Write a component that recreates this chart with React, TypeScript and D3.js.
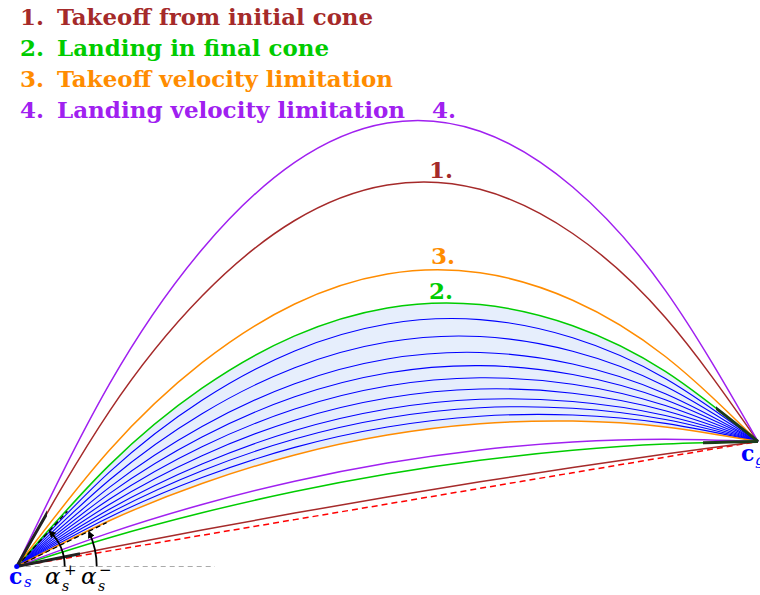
import React from "react";
import * as d3 from "d3";

// fraction of the horizontal distance from c_s to c_g
const tSteps = [0, 0.125, 0.25, 0.375, 0.5, 0.625, 0.75, 0.875, 1];

// altitude above c_s (px-like units) read at each step
const purpleUp = [0, 182.3, 317.0, 404.1, 443.5, 435.3, 379.5, 276.1, 125];
const brownUp = [0, 155.2, 270.5, 346.0, 381.5, 377.2, 333.0, 249.0, 125];
const orangeUp = [0, 116.2, 203.8, 262.5, 292.5, 293.7, 266.3, 210.0, 125];
const greenUp = [0, 101.4, 178.3, 230.6, 258.5, 261.9, 240.8, 195.1, 125];
const blueSeries = [
  [0, 94.4, 166.3, 215.6, 242.5, 246.9, 228.8, 188.1, 125],
  [0, 86.5, 152.8, 198.8, 224.5, 230.0, 215.3, 180.3, 125],
  [0, 79.1, 140.0, 182.8, 207.5, 214.0, 202.5, 172.8, 125],
  [0, 72.9, 129.5, 169.7, 193.5, 200.9, 192.0, 166.7, 125],
  [0, 67.3, 119.8, 157.5, 180.5, 188.7, 182.3, 161.0, 125],
  [0, 62.0, 110.8, 146.3, 168.5, 177.5, 173.3, 155.8, 125],
  [0, 57.2, 102.5, 136.0, 157.5, 167.2, 165.0, 151.0, 125],
  [0, 53.2, 95.75, 127.5, 148.5, 158.7, 158.3, 147.0, 125],
  [0, 49.3, 89.0, 119.1, 139.5, 150.3, 151.5, 143.1, 125],
];
const orangeLow = [0, 45.8, 83.0, 111.6, 131.5, 142.8, 145.5, 139.6, 125];
const purpleLow = [0, 33.6, 62.0, 85.3, 103.5, 116.6, 124.5, 127.3, 125];
const greenLow = [0, 28.8, 53.75, 75.0, 92.5, 106.2, 116.25, 122.5, 125];
const brownLow = [0, 18.7, 36.5, 53.4, 69.5, 84.7, 99.0, 112.4, 125];
const straightLine = [0, 15.625, 31.25, 46.875, 62.5, 78.125, 93.75, 109.375, 125];

const legendItems = [
  { num: "1.", text: "Takeoff from initial cone", color: "#A52A2A" },
  { num: "2.", text: "Landing in final cone", color: "#00CC00" },
  { num: "3.", text: "Takeoff velocity limitation", color: "#FF8C00" },
  { num: "4.", text: "Landing velocity limitation", color: "#A020F0" },
];

const COL = {
  brown: "#A52A2A",
  green: "#00CC00",
  orange: "#FF8C00",
  purple: "#A020F0",
  blue: "#0000FF",
  red: "#FF0000",
  fill: "#E6EEFC",
};

const SERIF = "'DejaVu Serif', 'Liberation Serif', serif";

export default function App() {
  const W = 760;
  const H = 595;
  const x = d3.scaleLinear().domain([0, 1]).range([16.7, 758]);
  const y = d3.scaleLinear().domain([0, 446]).range([566.5, 120.5]);

  const line = (vals: number[]) =>
    d3
      .line<number>()
      .x((_, i) => x(tSteps[i]))
      .y((d) => y(d))
      .curve(d3.curveNatural)(vals) || "";

  const area =
    d3
      .area<number>()
      .x((_, i) => x(tSteps[i]))
      .y0((_, i) => y(orangeLow[i]))
      .y1((_, i) => y(greenUp[i]))
      .curve(d3.curveNatural)(tSteps) || "";

  const legendY = [25, 56, 87, 118];
  const legendEnd = [373, 329, 393, 405];

  const cs = { x: x(0), y: y(0) };
  const arc = (r: number, a0: number, a1: number) => {
    const p = d3.path();
    p.arc(cs.x, cs.y, r, -a0, -a1, true);
    return p.toString();
  };
  const deg = Math.PI / 180;
  const ray = (ang: number, len: number) => ({
    x2: cs.x + len * Math.cos(ang * deg),
    y2: cs.y - len * Math.sin(ang * deg),
  });
  const rPlus = ray(47.5, 75);
  const rMinus = ray(26, 100);

  const ital = { fontFamily: SERIF, fontStyle: "italic" };

  return (
    <svg
      width={W}
      height={H}
      style={{ position: "absolute", left: 0, top: 0 }}
      xmlns="http://www.w3.org/2000/svg"
    >
      <defs>
        <clipPath id="clipCs1">
          <rect x={0} y={0} width={47} height={H} />
        </clipPath>
        <clipPath id="clipCs2">
          <rect x={0} y={0} width={80} height={H} />
        </clipPath>
        <clipPath id="clipCg1">
          <rect x={716} y={0} width={50} height={H} />
        </clipPath>
        <clipPath id="clipCg2">
          <rect x={703} y={0} width={60} height={H} />
        </clipPath>
        <marker id="arrow" viewBox="0 0 10 10" refX="7" refY="5" markerWidth="4" markerHeight="4" orient="auto">
          <path d="M0,0 L10,5 L0,10 z" fill="#000" />
        </marker>
      </defs>

      <rect x={0} y={0} width={W} height={H} fill="#fff" />

      {/* baseline */}
      <line x1={cs.x} y1={cs.y} x2={215} y2={cs.y} stroke="#aaa" strokeWidth={1} strokeDasharray="5,4" />

      {/* feasible region */}
      <path d={area} fill={COL.fill} stroke="none" />

      {blueSeries.map((s, i) => (
        <path key={i} d={line(s)} fill="none" stroke={COL.blue} strokeWidth={1.1} />
      ))}

      <path d={line(straightLine)} fill="none" stroke={COL.red} strokeWidth={1.5} strokeDasharray="6,4" />
      <path d={line(brownLow)} fill="none" stroke={COL.brown} strokeWidth={1.5} />
      <path d={line(greenLow)} fill="none" stroke={COL.green} strokeWidth={1.5} />
      <path d={line(purpleLow)} fill="none" stroke={COL.purple} strokeWidth={1.5} />
      <path d={line(orangeLow)} fill="none" stroke={COL.orange} strokeWidth={1.5} />
      <path d={line(greenUp)} fill="none" stroke={COL.green} strokeWidth={1.5} />
      <path d={line(orangeUp)} fill="none" stroke={COL.orange} strokeWidth={1.5} />
      <path d={line(brownUp)} fill="none" stroke={COL.brown} strokeWidth={1.5} />
      <path d={line(purpleUp)} fill="none" stroke={COL.purple} strokeWidth={1.5} />

      {/* velocity cone rays */}
      <line x1={cs.x} y1={cs.y} {...rPlus} stroke="#000" strokeWidth={1.3} strokeDasharray="5,3" />
      <line x1={cs.x} y1={cs.y} {...rMinus} stroke="#000" strokeWidth={1.3} strokeDasharray="5,3" />

      {/* cone edges */}
      <path d={line(brownUp)} fill="none" stroke="#222" strokeWidth={3} clipPath="url(#clipCs1)" />
      <path d={line(brownLow)} fill="none" stroke="#222" strokeWidth={3} clipPath="url(#clipCs2)" />
      <path d={line(greenUp)} fill="none" stroke="#1b3b1b" strokeWidth={3} clipPath="url(#clipCg1)" />
      <path d={line(greenLow)} fill="none" stroke="#1b3b1b" strokeWidth={3} clipPath="url(#clipCg2)" />

      {/* angle arcs */}
      <path d={arc(48, 0, 46 * deg)} fill="none" stroke="#000" strokeWidth={1.8} markerEnd="url(#arrow)" />
      <path d={arc(80, 0, 25 * deg)} fill="none" stroke="#000" strokeWidth={1.8} markerEnd="url(#arrow)" />

      <circle cx={cs.x} cy={cs.y} r={2.5} fill={COL.blue} />

      {/* legend */}
      {legendItems.map((d, i) => (
        <g key={i} fill={d.color} style={{ fontFamily: SERIF, fontWeight: "bold", fontSize: "23px" }}>
          <text x={20} y={legendY[i]}>{d.num}</text>
          <text x={57} y={legendY[i]} textLength={legendEnd[i] - 57} lengthAdjust="spacingAndGlyphs">
            {d.text}
          </text>
        </g>
      ))}

      {/* curve labels */}
      <g style={{ fontFamily: SERIF, fontWeight: "bold", fontSize: "23px" }}>
        <text x={432} y={118} fill={COL.purple}>4.</text>
        <text x={429} y={178} fill={COL.brown}>1.</text>
        <text x={431} y={264} fill={COL.orange}>3.</text>
        <text x={429} y={299} fill={COL.green}>2.</text>
      </g>

      {/* point labels */}
      <text x={9} y={584} fill={COL.blue} style={{ fontFamily: SERIF, fontWeight: "bold", fontSize: "22px" }}>c</text>
      <text x={24} y={587} fill={COL.blue} style={{ ...ital, fontSize: "15px" }}>s</text>
      <text x={741} y={461} fill={COL.blue} style={{ fontFamily: SERIF, fontWeight: "bold", fontSize: "22px" }}>c</text>
      <text x={755} y={465} fill={COL.blue} style={{ ...ital, fontSize: "15px" }}>g</text>

      <text x={45} y={584} fill="#000" style={{ ...ital, fontSize: "23px" }}>α</text>
      <text x={62} y={591} fill="#000" style={{ ...ital, fontSize: "14px" }}>s</text>
      <text x={64} y={575} fill="#000" style={{ fontFamily: SERIF, fontSize: "15px" }}>+</text>
      <text x={81} y={584} fill="#000" style={{ ...ital, fontSize: "23px" }}>α</text>
      <text x={98} y={591} fill="#000" style={{ ...ital, fontSize: "14px" }}>s</text>
      <text x={99} y={575} fill="#000" style={{ fontFamily: SERIF, fontSize: "15px" }}>−</text>
    </svg>
  );
}
